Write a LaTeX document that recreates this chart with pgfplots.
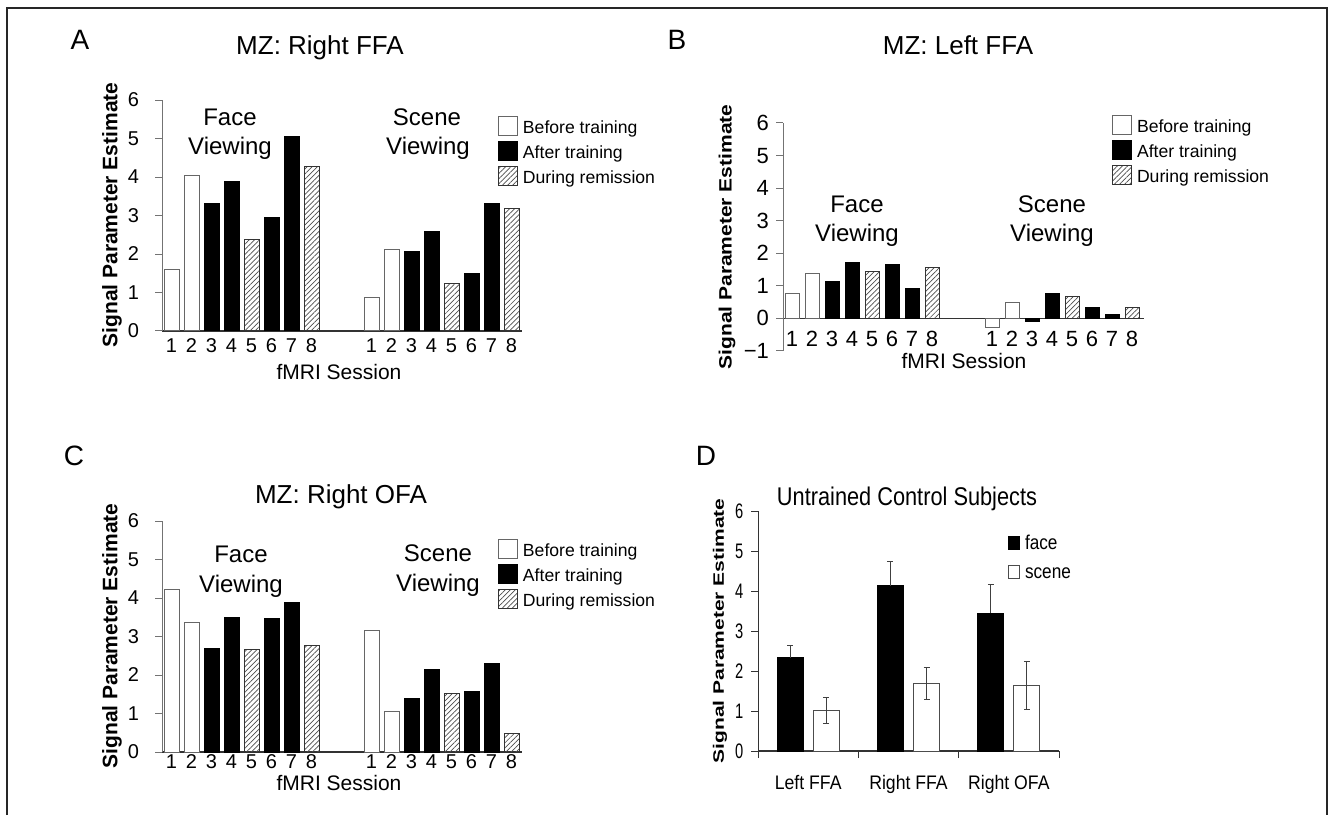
\documentclass[border=0pt]{standalone}
\usepackage{fontspec}
\setmainfont{Liberation Sans}
\usepackage{pgfplots}
\pgfplotsset{compat=1.18}
\usetikzlibrary{patterns.meta}

\pgfplotsset{
  mz/.style={
    scale only axis,
    axis x line*=bottom, axis y line*=left,
    ymin=0, ymax=6,
    xtick={1,2,3,4,5,6,7,8,11,12,13,14,15,16,17,18},
    xticklabels={1,2,3,4,5,6,7,8,1,2,3,4,5,6,7,8},
    ytick={0,1,2,3,4,5,6},
    yticklabels={0,1,2,3,4,5,6},
    tick align=outside, major tick length=3.5pt,
    major x tick style={draw=none},
    y tick style={black!55, line width=0.5pt},
    y axis line style={black!55, line width=0.5pt},
    x axis line style={black!80, line width=0.6pt},
    tick label style={font=\fontsize{10}{11}\selectfont},
    yticklabel style={xshift=-4.5pt},
    xticklabel style={text height=7.2pt, text depth=0pt},
    legend style={draw=none, fill=none, inner sep=0pt, outer sep=0pt,
      anchor=north west, row sep=2.5pt, column sep=2.5pt,
      font=\fontsize{8.8}{10}\selectfont, cells={anchor=base west},
      nodes={inner sep=0pt, text height=8.5pt, text depth=1pt}},
  },
  mzimg/.style={legend image code/.code={\draw[##1] (0pt,-1pt) rectangle (9.5pt,8.5pt);}},
  dimg/.style={legend image code/.code={\draw[##1] (0pt,0pt) rectangle (5.5pt,6.5pt);}},
  before/.style={ybar, bar shift=0pt, fill=white, draw=black!60, line width=0.5pt, mzimg},
  after/.style={ybar, bar shift=0pt, fill=black, draw=black, line width=0.5pt, mzimg},
  remis/.style={ybar, bar shift=0pt, pattern={Lines[angle=45,distance=1.8pt,line width=0.35pt]}, pattern color=black!70, draw=black!80, line width=0.5pt, mzimg},
  dface/.style={ybar, bar width=0.26, bar shift=0pt, fill=black, draw=black, line width=0.5pt, dimg},
  dscene/.style={ybar, bar width=0.26, bar shift=0pt, fill=white, draw=black!70, line width=0.5pt, dimg},
}

\begin{document}
\begin{tikzpicture}
\useasboundingbox (0,0) rectangle (664pt,407.5pt);
\draw[black!85, line width=1pt] (3.5pt,0) -- (3.5pt,403.5pt) -- (663.5pt,403.5pt) -- (663.5pt,0);

% ---------------- Panel A ----------------
\begin{axis}[mz, at={(81pt,242pt)}, width=180pt, height=115.5pt,
  xmin=0.525, xmax=18.525, bar width=0.75,
  xticklabel style={yshift=3.5pt},
  legend style={at={(axis description cs:0.9333,0.9307)}}]
\addplot[before] coordinates {(1,1.61) (2,4.05) (11,0.86) (12,2.11)};
\addplot[after] coordinates {(3,3.30) (4,3.89) (6,2.94) (7,5.04) (13,2.07) (14,2.59) (16,1.49) (17,3.32)};
\addplot[remis] coordinates {(5,2.38) (8,4.28) (15,1.23) (18,3.17)};
\legend{Before training, After training, During remission}
\end{axis}

% ---------------- Panel B ----------------
\begin{axis}[mz, at={(391.5pt,232pt)}, width=180.5pt, height=114pt,
  axis x line*=middle, hide obscured x ticks=false, hide obscured y ticks=false,
  xmin=0.55, xmax=18.6, ymin=-1, ymax=6, bar width=0.7,
  ytick={-1,0,1,2,3,4,5,6}, yticklabels={−1,0,1,2,3,4,5,6},
  tick label style={font=\fontsize{11}{12}\selectfont},
  yticklabel style={xshift=4.5pt},
  xticklabel style={yshift=1pt, text height=7.9pt},
  legend style={at={(axis description cs:0.9114,1.0351)}}]
\addplot[before] coordinates {(1,0.76) (2,1.39) (11,-0.28) (12,0.48)};
\addplot[after] coordinates {(3,1.12) (4,1.72) (6,1.66) (7,0.93) (13,-0.10) (14,0.78) (16,0.34) (17,0.12)};
\addplot[remis] coordinates {(5,1.43) (8,1.56) (15,0.67) (18,0.33)};
\legend{Before training, After training, During remission}
\end{axis}

% ---------------- Panel C ----------------
\begin{axis}[mz, at={(81pt,31.5pt)}, width=180pt, height=115.5pt,
  xmin=0.525, xmax=18.525, bar width=0.75,
  xticklabel style={yshift=6pt},
  legend style={at={(axis description cs:0.9333,0.922)}}]
\addplot[before] coordinates {(1,4.22) (2,3.37) (11,3.15) (12,1.06)};
\addplot[after] coordinates {(3,2.68) (4,3.50) (6,3.47) (7,3.89) (13,1.39) (14,2.15) (16,1.56) (17,2.30)};
\addplot[remis] coordinates {(5,2.66) (8,2.76) (15,1.52) (18,0.48)};
\legend{Before training, After training, During remission}
\end{axis}

% ---------------- Panel D ----------------
\begin{axis}[at={(379pt,32pt)}, scale only axis, width=150.5pt, height=120pt,
  xmin=0, xmax=3, ymin=0, ymax=6,
  axis x line*=bottom, axis y line*=left,
  xtick={0.5,1.5,2.5}, xticklabels={Left FFA, Right FFA, Right OFA},
  minor xtick={0,1,2,3},
  ytick={0,1,2,3,4,5,6}, yticklabels={0,1,2,3,4,5,6},
  tick align=outside, major tick length=3.5pt, minor tick length=3.5pt,
  major x tick style={draw=none},
  minor x tick style={black!80, line width=0.5pt},
  y tick style={black!80, line width=0.5pt},
  y axis line style={black!80, line width=0.5pt},
  x axis line style={black!80, line width=0.6pt},
  xticklabel style={font=\fontsize{9.8}{11}\selectfont, xscale=0.9, yshift=-5pt},
  yticklabel style={font=\fontsize{10.5}{11}\selectfont, xscale=0.7, xshift=-2pt},
  legend style={draw=none, fill=none, inner sep=0pt, outer sep=0pt,
    at={(axis description cs:0.8306,0.8958)}, anchor=north west,
    row sep=7.5pt, column sep=2.5pt,
    font=\fontsize{10}{11}\selectfont, cells={anchor=base west},
    nodes={inner sep=0pt, text height=6.5pt, text depth=0pt, xscale=0.86}},
  ]
\addplot[dface,
  error bars/.cd, y dir=plus, y explicit,
  error bar style={black!75, line width=0.5pt},
  error mark options={rotate=90, black!75, mark size=1.5pt, line width=0.5pt}]
  coordinates {(0.32,2.33) +- (0,0.32) (1.32,4.13) +- (0,0.60) (2.32,3.45) +- (0,0.72)};
\addplot[dscene,
  error bars/.cd, y dir=both, y explicit,
  error bar style={black!75, line width=0.5pt},
  error mark options={rotate=90, black!75, mark size=1.5pt, line width=0.5pt}]
  coordinates {(0.68,1.01) +- (0,0.33) (1.68,1.69) +- (0,0.41) (2.68,1.64) +- (0,0.60)};
\legend{face, scene}
\end{axis}

% ---------------- Texts ----------------
\tikzset{lett/.style={font=\fontsize{14}{16}\selectfont, anchor=base},
  ttl/.style={font=\fontsize{13}{15}\selectfont, anchor=base},
  ann/.style={font=\fontsize{12}{14}\selectfont, anchor=base},
  xl/.style={font=\fontsize{10.5}{12}\selectfont, anchor=base},
  yl/.style={font=\fontsize{10.5}{12}\selectfont\bfseries, rotate=90}}

\node[lett] at (40pt,382.5pt) {A};
\node[lett] at (338.5pt,382.5pt) {B};
\node[lett] at (37pt,175pt) {C};
\node[lett] at (353pt,175pt) {D};

\node[ttl] at (160pt,380pt) {MZ: Right FFA};
\node[ttl] at (479pt,380pt) {MZ: Left FFA};
\node[ttl] at (170.5pt,156pt) {MZ: Right OFA};
\node[ttl, xscale=0.85, font=\fontsize{12.8}{15}\selectfont] at (453.5pt,155pt) {Untrained Control Subjects};

\node[ann] at (115pt,344.5pt) {Face};
\node[ann] at (115pt,330pt) {Viewing};
\node[ann] at (213.5pt,344.5pt) {Scene};
\node[ann] at (214pt,330pt) {Viewing};
\node[ann] at (428.5pt,301pt) {Face};
\node[ann] at (428.5pt,286.5pt) {Viewing};
\node[ann] at (526pt,301pt) {Scene};
\node[ann] at (526pt,286.5pt) {Viewing};
\node[ann] at (120.5pt,126.5pt) {Face};
\node[ann] at (120.5pt,111.5pt) {Viewing};
\node[ann] at (219pt,127pt) {Scene};
\node[ann] at (219pt,112pt) {Viewing};

\node[xl] at (169.5pt,217.5pt) {fMRI Session};
\node[xl] at (482pt,223pt) {fMRI Session};
\node[xl] at (169.5pt,12.5pt) {fMRI Session};

\node[yl] at (56pt,300pt) {Signal Parameter Estimate};
\node[yl, yscale=0.85] at (363.5pt,289pt) {Signal Parameter Estimate};
\node[yl] at (56pt,89.5pt) {Signal Parameter Estimate};
\node[yl, yscale=0.72] at (360pt,92pt) {Signal Parameter Estimate};
\end{tikzpicture}
\end{document}
